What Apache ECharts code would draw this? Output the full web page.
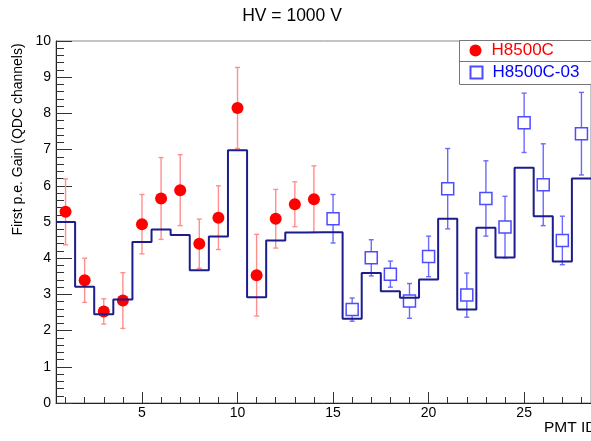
<!DOCTYPE html>
<html>
<head>
<meta charset="utf-8">
<script src="https://cdn.jsdelivr.net/npm/echarts@6/dist/echarts.min.js"></script>
<style>
html,body{margin:0;padding:0;background:#fff;}
#c{width:591px;height:441px;}
</style>
</head>
<body>
<div id="c"></div>
<script>
// ---- data ----
const pmtIds = [1,2,3,4,5,6,7,8,9,10,11,12,13,14,15,16,17,18,19,20,21,22,23,24,25,26,27,28];
const histValues = [5.00,3.21,2.45,2.86,4.45,4.79,4.64,3.67,4.60,6.98,2.92,4.49,4.71,4.72,4.72,2.33,3.59,3.09,2.91,3.41,5.09,2.58,4.84,4.02,6.50,5.16,3.91,6.20];
const redIds = [1,2,3,4,5,6,7,8,9,10,11,12,13,14];
const redValues = [5.28,3.39,2.53,2.83,4.94,5.65,5.88,4.40,5.12,8.15,3.53,5.09,5.49,5.63];
const redErrors = [0.91,0.61,0.35,0.77,0.82,1.13,0.98,0.68,0.88,1.12,1.13,0.81,0.62,0.92];
const blueIds = [15,16,17,18,19,20,21,22,23,24,25,26,27,28];
const blueValues = [5.09,2.58,4.01,3.56,2.82,4.05,5.92,2.98,5.65,4.86,7.74,6.03,4.49,7.44];
const blueErrors = [0.67,0.32,0.50,0.36,0.48,0.56,1.11,0.61,1.04,0.85,0.82,1.13,0.67,1.14];
const xMajorTicks = [5,10,15,20,25];
const titleText = 'HV = 1000 V';
const yTitle = 'First p.e. Gain (QDC channels)';
const xTitle = 'PMT ID';
const redName = 'H8500C';
const blueName = 'H8500C-03';

// ---- build ----
const stepData = pmtIds.map((id, i) => [id - 0.5, histValues[i]]);
stepData.push([pmtIds[pmtIds.length - 1] + 0.5, histValues[histValues.length - 1]]);
const redPts = redIds.map((id, i) => [id, redValues[i]]);
const redErr = redIds.map((id, i) => [id, redValues[i] - redErrors[i], redValues[i] + redErrors[i]]);
const bluePts = blueIds.map((id, i) => [id, blueValues[i]]);
const blueErr = blueIds.map((id, i) => [id, blueValues[i] - blueErrors[i], blueValues[i] + blueErrors[i]]);

function errRender(color) {
  return function (params, api) {
    const x = api.value(0), lo = api.value(1), hi = api.value(2);
    const p1 = api.coord([x, lo]), p2 = api.coord([x, hi]);
    const c = 2.5;
    const st = { stroke: color, lineWidth: 1.4 };
    return {
      type: 'group',
      children: [
        { type: 'line', shape: { x1: p1[0], y1: p1[1], x2: p2[0], y2: p2[1] }, style: st },
        { type: 'line', shape: { x1: p1[0] - c, y1: p1[1], x2: p1[0] + c, y2: p1[1] }, style: st },
        { type: 'line', shape: { x1: p2[0] - c, y1: p2[1], x2: p2[0] + c, y2: p2[1] }, style: st }
      ]
    };
  };
}

const FONT = '"Liberation Sans", Arial, Helvetica, sans-serif';
const chart = echarts.init(document.getElementById('c'), null, { renderer: 'canvas' });
const xMin = 0.5, xMax = 28.5;

chart.setOption({
  animation: false,
  backgroundColor: '#fff',
  textStyle: { fontFamily: FONT },
  title: {
    text: titleText, left: 287, top: 2, textAlign: 'center',
    textStyle: { fontFamily: FONT, fontSize: 17.5, fontWeight: 'normal', color: '#000' }
  },
  grid: { left: 56, right: -2, top: 41, bottom: 38, show: true, borderColor: '#888', borderWidth: 1, backgroundColor: 'transparent' },
  legend: [
    {
      data: [{ name: redName, textStyle: { color: '#ff0000' } }],
      left: 469.5, top: 41.5, padding: 0, itemWidth: 12, itemHeight: 12,
      textStyle: { fontSize: 17, fontFamily: FONT, lineHeight: 18, padding: [0, 0, 0, 5] },
      selectedMode: false
    },
    {
      data: [{ name: blueName, textStyle: { color: '#0000ff' } }],
      left: 469.5, top: 63.5, padding: 0, itemWidth: 12, itemHeight: 12,
      textStyle: { fontSize: 17, fontFamily: FONT, lineHeight: 18, padding: [0, 0, 0, 5] },
      selectedMode: false
    }
  ],
  xAxis: [
    {
      type: 'value', min: xMin, max: xMax, position: 'bottom',
      axisLine: { show: true, lineStyle: { color: '#222', width: 1 } },
      axisTick: { show: true, inside: true, length: 11, customValues: xMajorTicks, lineStyle: { color: '#333' } },
      axisLabel: { show: true, customValues: xMajorTicks, margin: 3, fontSize: 14, color: '#000', fontFamily: FONT },
      splitLine: { show: false }
    },
    {
      type: 'value', min: xMin, max: xMax, position: 'bottom',
      axisLine: { show: false },
      axisTick: { show: true, inside: true, length: 6, customValues: pmtIds, lineStyle: { color: '#333' } },
      axisLabel: { show: false },
      splitLine: { show: false }
    }
  ],
  yAxis: {
    type: 'value', min: 0, max: 10, interval: 1,
    axisLine: { show: true, lineStyle: { color: '#222', width: 1 } },
    axisTick: { show: true, inside: true, length: 16, lineStyle: { color: '#333' } },
    minorTick: { show: true, splitNumber: 5, length: 8, lineStyle: { color: '#333' } },
    axisLabel: { margin: 5, fontSize: 14, color: '#000', fontFamily: FONT },
    splitLine: { show: false }
  },
  graphic: [
    {
      type: 'rect', z: 1, shape: { x: 459.5, y: 40.5, width: 140, height: 44 },
      style: { fill: '#fff', stroke: '#777', lineWidth: 1 }
    },
    {
      type: 'line', z: 1, shape: { x1: 459.5, y1: 61.5, x2: 600, y2: 61.5 },
      style: { stroke: '#777', lineWidth: 1 }
    },
    {
      type: 'text', x: 18, y: 139.5, rotation: Math.PI / 2,
      style: { text: yTitle, fontSize: 14, fontFamily: FONT, fill: '#000', align: 'center', verticalAlign: 'middle' }
    },
    {
      type: 'text', x: 544, y: 428,
      style: { text: xTitle, fontSize: 15.5, fontFamily: FONT, fill: '#000', align: 'left', verticalAlign: 'middle' }
    }
  ],
  series: [
    {
      name: 'redErr', type: 'custom', renderItem: errRender('#ff8f8f'), data: redErr,
      encode: { x: 0, y: [1, 2] }, z: 2, silent: true
    },
    {
      name: 'blueErr', type: 'custom', renderItem: errRender('#6a6aff'), data: blueErr,
      encode: { x: 0, y: [1, 2] }, z: 2, silent: true
    },
    {
      name: redName, type: 'scatter', data: redPts, symbol: 'circle', symbolSize: 12,
      itemStyle: { color: '#ff0000', opacity: 1 }, z: 3
    },
    {
      name: blueName, type: 'scatter', data: bluePts, symbol: 'rect', symbolSize: 12,
      itemStyle: { color: '#ffffff', borderColor: '#4d4dff', borderWidth: 1.5, opacity: 1 }, z: 3
    },
    {
      name: 'hist', type: 'line', step: 'end', data: stepData, showSymbol: false, symbol: 'none',
      lineStyle: { color: '#1c1c8c', width: 2 }, z: 4, silent: true
    }
  ]
});
</script>
</body>
</html>
